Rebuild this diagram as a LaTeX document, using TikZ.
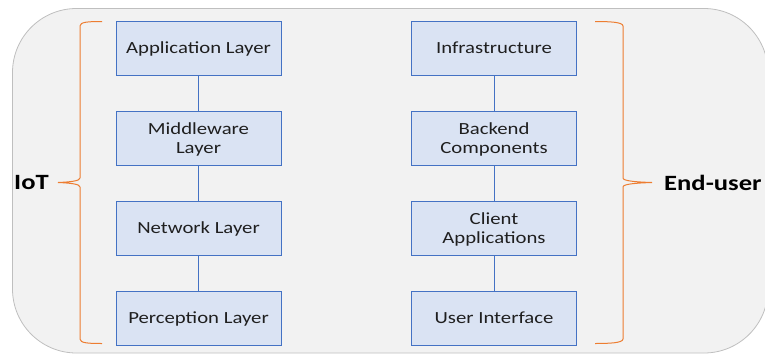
\documentclass[tikz,border=0pt]{standalone}
\usepackage{fontspec}
\setmainfont{Carlito}[FakeStretch=1.22]
\definecolor{panelfill}{HTML}{F2F2F2}
\definecolor{panelline}{HTML}{BFBFBF}
\definecolor{boxfill}{HTML}{DAE3F3}
\definecolor{boxline}{HTML}{4472C4}
\definecolor{bracecol}{HTML}{ED7D31}
\begin{document}
\begin{tikzpicture}[x=1pt,y=-1pt,
  layerbox/.style={draw=boxline,fill=boxfill,line width=0.9pt,minimum width=165pt,minimum height=54pt,
    inner sep=2pt,align=center,text depth=0pt,font=\fontsize{17}{19}\selectfont,text=black!88},
  link/.style={draw=boxline,line width=0.8pt},
  bracepath/.style={draw=bracecol,line width=1pt},
  sidelabel/.style={font=\fontsize{21.8}{26}\selectfont\bfseries,inner sep=0pt}]
\useasboundingbox (0,0) rectangle (765,354);
\clip (0,0) rectangle (765,354);
% rounded background panel
\draw[fill=panelfill,draw=panelline,line width=0.8pt,rounded corners=64pt] (12.5,8.5) rectangle (768,353);
% IoT stack
\node[layerbox] (app) at (198.5,48) {Application Layer};
\node[layerbox] (mid) at (198.5,138) {Middleware\\Layer};
\node[layerbox] (net) at (198.5,228) {Network Layer};
\node[layerbox] (per) at (198.5,318) {Perception Layer};
% end-user stack
\node[layerbox] (inf) at (494,48) {Infrastructure};
\node[layerbox] (bck) at (494,138) {Backend\\Components};
\node[layerbox] (cli) at (494,228) {Client\\Applications};
\node[layerbox] (ui)  at (494,318) {User Interface};
\draw[link] (app) -- (mid);
\draw[link] (mid) -- (net);
\draw[link] (net) -- (per);
\draw[link] (inf) -- (bck);
\draw[link] (bck) -- (cli);
\draw[link] (cli) -- (ui);
% braces
\coordinate (ltip) at (58,182.5);
\coordinate (rtip) at (652,182.5);
\draw[bracepath] (102,21.5) .. controls (88,21.5) and (80,22) .. (80,26)
  -- (80,178) .. controls (80,181) and (70,182) .. (ltip)
  .. controls (70,183) and (80,184) .. (80,187)
  -- (80,339) .. controls (80,343) and (88,343.5) .. (102,343.5);
\draw[bracepath] (595,21.5) .. controls (609,21.5) and (623,22) .. (623,26)
  -- (623,178) .. controls (623,181) and (636,182) .. (rtip)
  .. controls (636,183) and (623,184) .. (623,187)
  -- (623,339) .. controls (623,343) and (609,343.5) .. (595,343.5);
\node[sidelabel,anchor=west] (iot) at (14,183) {IoT};
\node[sidelabel,anchor=west] (usr) at (664,183) {End-user};
\end{tikzpicture}
\end{document}
